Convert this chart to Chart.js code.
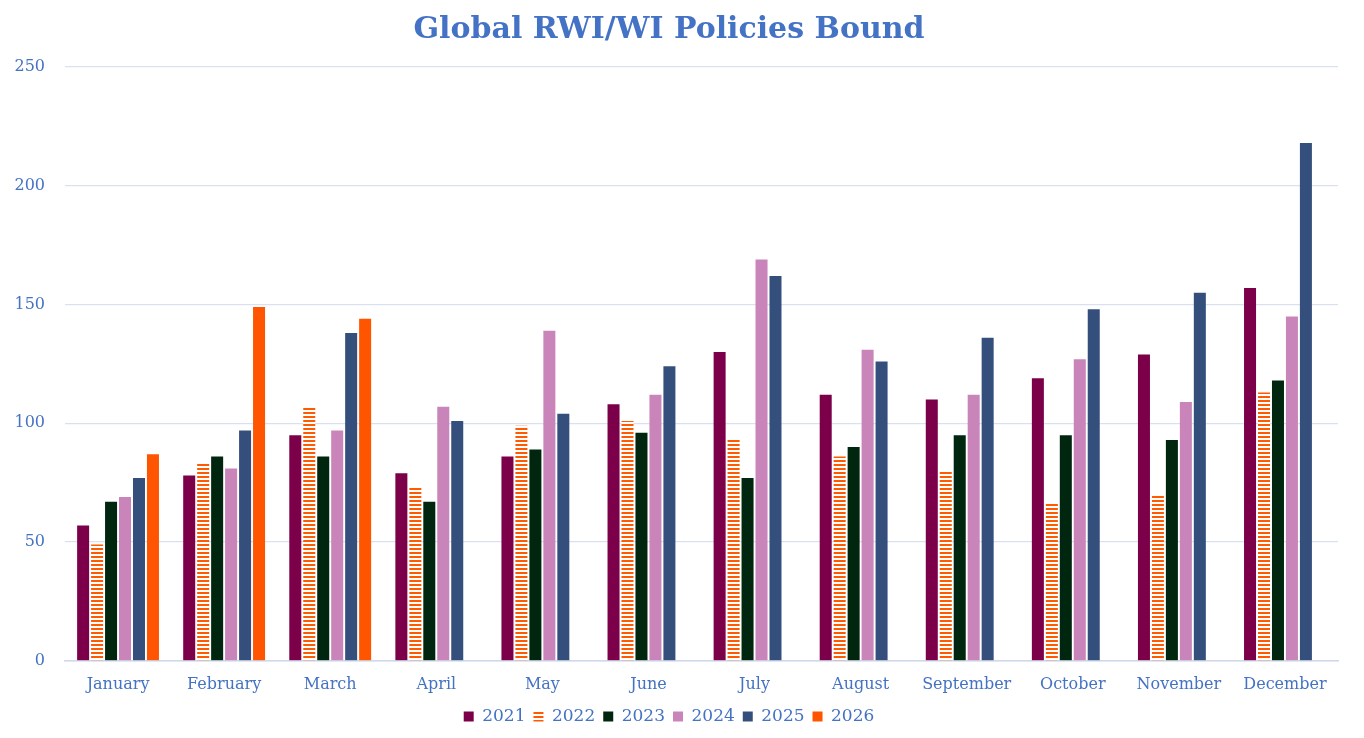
<!DOCTYPE html>
<html>
<head>
<meta charset="utf-8">
<script src="https://cdn.jsdelivr.net/npm/chart.js@4"></script>
<style>
html,body{margin:0;padding:0;background:#fff;}
#wrap{width:1364px;height:738px;}
</style>
</head>
<body>
<div id="wrap"><canvas id="c" width="1364" height="738"></canvas></div>
<script>
const months = ["January","February","March","April","May","June","July","August","September","October","November","December"];
const seriesNames = ["2021","2022","2023","2024","2025","2026"];
const v2021 = [57,78,95,79,86,108,130,112,110,119,129,157];
const v2022 = [49,83,107,73,99,101,93,86,80,66,70,113];
const v2023 = [67,86,86,67,89,96,77,90,95,95,93,118];
const v2024 = [69,81,97,107,139,112,169,131,112,127,109,145];
const v2025 = [77,97,138,101,104,124,162,126,136,148,155,218];
const v2026 = [87,149,144,null,null,null,null,null,null,null,null,null];
const yTicks = [0,50,100,150,200,250];

const colors = ["#7B0049","#FF5A00","#01260F","#C985BA","#354F7C","#FF5500"];

function stripePattern(color){
  const p = document.createElement('canvas');
  p.width = 4; p.height = 4;
  const g = p.getContext('2d');
  g.fillStyle = '#ffffff'; g.fillRect(0,0,4,4);
  g.fillStyle = color; g.fillRect(0,0,4,2);
  return g.createPattern(p,'repeat');
}

const fontFam = "'DejaVu Serif', Georgia, serif";
const textColor = "#4472C4";

const dataArrays = [v2021,v2022,v2023,v2024,v2025,v2026];
const datasets = seriesNames.map((n,i)=>({
  label:n,
  data:dataArrays[i],
  backgroundColor: i===1 ? stripePattern(colors[1]) : colors[i],
  borderWidth: 0,
  categoryPercentage: 0.79,
  barPercentage: 0.86
}));

new Chart(document.getElementById('c'),{
  type:'bar',
  data:{labels:months,datasets},
  options:{
    responsive:false,
    animation:false,
    devicePixelRatio:1,
    layout:{padding:{left:0,right:26,top:0,bottom:3}},
    plugins:{
      title:{display:true,text:"Global RWI/WI Policies Bound",color:textColor,
        font:{family:fontFam,size:30,weight:'bold'},padding:{top:12,bottom:19}},
      legend:{position:'bottom',labels:{color:textColor,font:{family:fontFam,size:17},
        boxWidth:10,boxHeight:10,padding:8}},
      tooltip:{enabled:false}
    },
    scales:{
      x:{grid:{display:false,drawTicks:false},border:{color:"#D0D9EC",width:1.5},
        afterFit:(ax)=>{ax.height=ax.height-8;},
        ticks:{color:textColor,font:{family:fontFam,size:16},padding:14}},
      y:{min:0,max:250,afterBuildTicks:(ax)=>{ax.ticks=yTicks.map(v=>({value:v}));},
        afterFit:(ax)=>{ax.width=65;},
        grid:{color:"#D9E1F1",lineWidth:1.2,drawTicks:false},border:{display:false},
        ticks:{color:textColor,font:{family:fontFam,size:16},padding:20}}
    }
  }
});
</script>
</body>
</html>
